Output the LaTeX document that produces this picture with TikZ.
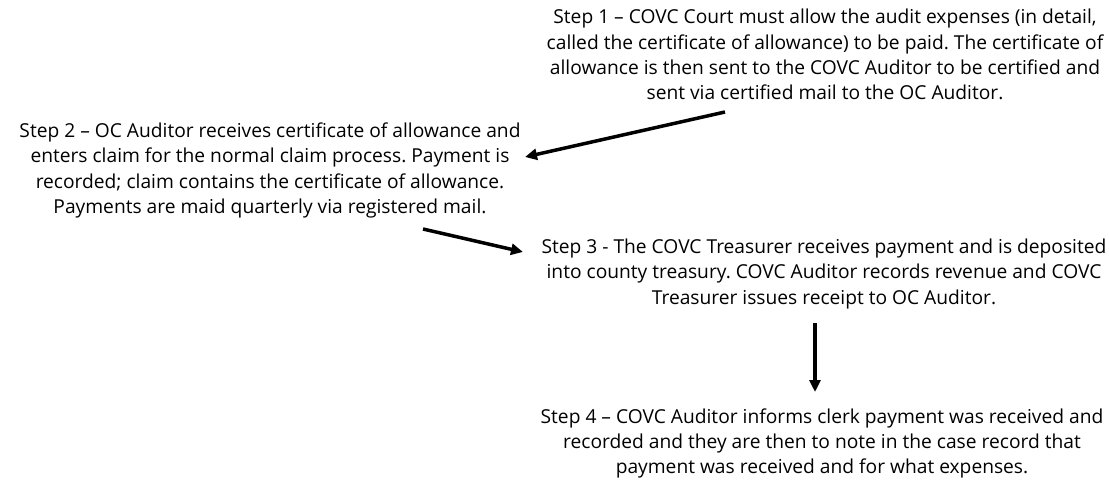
\documentclass[tikz,border=0pt]{standalone}
\usepackage{fontspec}
\setmainfont{Open Sans}
\usetikzlibrary{arrows.meta}
\frenchspacing

\tikzset{
	stepnote/.style={align=center, inner sep=0pt, font=\fontsize{19.2}{25.2}\selectfont},
	flow/.style={line width=3.5pt, -{Triangle[length=12pt, width=11pt]}}
}

\begin{document}
\begin{tikzpicture}[x=1pt, y=-1pt]
		\useasboundingbox (0, 0) rectangle (1109, 481);
		% the four steps
		\node[stepnote] (court) at (825, 54.5) {Step 1 – COVC Court must allow the audit expenses (in detail,\\ called the certificate of allowance) to be paid. The certificate of\\ allowance is then sent to the COVC Auditor to be certified and\\ sent via certified mail to the OC Auditor.};
		\node[stepnote] (claim) at (270, 170.5) {Step 2 – OC Auditor receives certificate of allowance and\\ enters claim for the normal claim process. Payment is\\ recorded; claim contains the certificate of allowance.\\ Payments are maid quarterly via registered mail.};
		\node[stepnote] (treasury) at (824, 274) {Step 3 - The COVC Treasurer receives payment and is deposited\\ into county treasury. COVC Auditor records revenue and COVC\\ Treasurer issues receipt to OC Auditor.};
		\node[stepnote] (clerk) at (822, 443.5) {Step 4 – COVC Auditor informs clerk payment was received and\\ recorded and they are then to note in the case record that\\ payment was received and for what expenses.};
		% arrow ends
		\coordinate (courtout) at (725, 112);
		\coordinate (claimin) at (525, 157);
		\coordinate (claimout) at (423, 229);
		\coordinate (treasuryin) at (523, 252);
		\coordinate (treasuryout) at (815, 323);
		\coordinate (clerkin) at (815, 392);
		% arrows between the steps
		\draw[flow] (courtout) -- (claimin);
		\draw[flow] (claimout) -- (treasuryin);
		\draw[flow] (treasuryout) -- (clerkin);
	\end{tikzpicture}
\end{document}
